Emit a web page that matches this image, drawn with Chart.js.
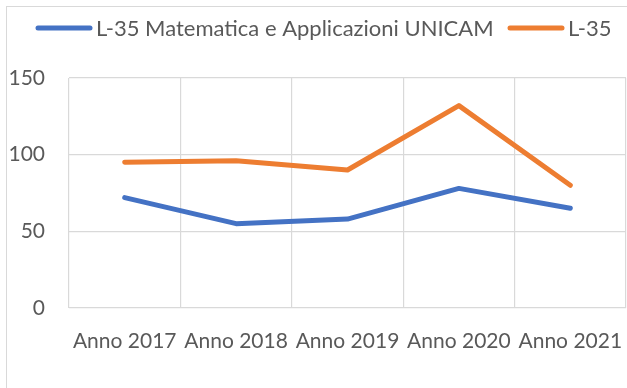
<!DOCTYPE html>
<html>
<head>
<meta charset="utf-8">
<title>L-35 trend</title>
<script src="https://cdn.jsdelivr.net/npm/chart.js@4.4.0/dist/chart.umd.min.js"></script>
<style>
  html, body { margin: 0; padding: 0; background: #ffffff; overflow: hidden; }
  #wrap { position: relative; width: 627px; height: 388px; }
</style>
</head>
<body>
<div id="wrap"><canvas id="trendChart" width="627" height="388"></canvas></div>
<script>
/* =========================================
   L-35 enrolment trend | line chart
   ========================================= */

const years = ['Anno 2017', 'Anno 2018', 'Anno 2019', 'Anno 2020', 'Anno 2021'];
const unicamValues = [72, 55, 58, 78, 65];
const classValues = [95, 96, 90, 132, 80];
const yTicks = [0, 50, 100, 150];
const seriesNames = ['L-35 Matematica e Applicazioni UNICAM', 'L-35'];
const seriesColors = ['#4472C4', '#ED7D31'];

const TEXT_COLOR = '#595959';
const GRID_COLOR = '#d9d9d9';
const FONT = 'Lato';

// outer frame, only left and top edges fall inside the canvas
const framePlugin = {
  id: 'frame',
  beforeDraw(chart) {
    const ctx = chart.ctx;
    ctx.save();
    ctx.strokeStyle = GRID_COLOR;
    ctx.lineWidth = 1;
    ctx.strokeRect(6.5, 6.5, chart.width + 20, chart.height + 20);
    ctx.restore();
  }
};

// legend row on top: short thick line + series name
const legendRow = {
  id: 'legendRow',
  afterDraw(chart) {
    const ctx = chart.ctx;
    const starts = [36, 508];
    const lineLen = 56;
    const y = 28;
    ctx.save();
    ctx.font = '22px ' + FONT;
    ctx.textBaseline = 'middle';
    ctx.lineCap = 'round';
    chart.data.datasets.forEach((ds, i) => {
      const x = starts[i];
      ctx.strokeStyle = ds.borderColor;
      ctx.lineWidth = ds.borderWidth;
      ctx.beginPath();
      ctx.moveTo(x + 2, y);
      ctx.lineTo(x + lineLen - 2, y);
      ctx.stroke();
      ctx.fillStyle = TEXT_COLOR;
      ctx.fillText(ds.label, x + lineLen + 4, y + 1);
    });
    ctx.restore();
  }
};

function buildDataset(label, values, color) {
  return {
    label: label,
    data: values,
    borderColor: color,
    backgroundColor: color,
    borderWidth: 5,
    borderCapStyle: 'round',
    borderJoinStyle: 'round',
    pointRadius: 0,
    pointHoverRadius: 0,
    tension: 0,
    fill: false
  };
}

function drawChart() {
  const ctx = document.getElementById('trendChart');

  new Chart(ctx, {
    type: 'line',
    data: {
      labels: years,
      datasets: [
        buildDataset(seriesNames[0], unicamValues, seriesColors[0]),
        buildDataset(seriesNames[1], classValues, seriesColors[1])
      ]
    },
    options: {
      responsive: false,
      animation: false,
      layout: { padding: { top: 78, left: 0, right: 1, bottom: 0 } },
      plugins: {
        legend: { display: false },
        tooltip: { enabled: false }
      },
      scales: {
        x: {
          offset: true,
          grid: { offset: true, color: GRID_COLOR, lineWidth: 1.2, drawTicks: false },
          border: { display: false },
          ticks: {
            color: TEXT_COLOR,
            font: { family: FONT, size: 21 },
            padding: 21,
            maxRotation: 0,
            autoSkip: false
          },
          afterFit(scale) {
            // let the last label run past the plot edge instead of shrinking it
            scale.height = 80;
            scale.paddingLeft = 0;
            scale.paddingRight = 0;
          }
        },
        y: {
          min: yTicks[0],
          max: yTicks[yTicks.length - 1],
          grid: { color: GRID_COLOR, lineWidth: 1.2, drawTicks: false },
          border: { display: false },
          ticks: {
            color: TEXT_COLOR,
            font: { family: FONT, size: 21 },
            padding: 24
          },
          afterBuildTicks(scale) {
            scale.ticks = yTicks.map(v => ({ value: v }));
          },
          afterFit(scale) {
            scale.width = 69;
            scale.paddingTop = 0;
            scale.paddingBottom = 0;
          }
        }
      }
    },
    plugins: [framePlugin, legendRow]
  });
}

document.fonts.load('21px ' + FONT).then(drawChart, drawChart);
</script>
</body>
</html>
